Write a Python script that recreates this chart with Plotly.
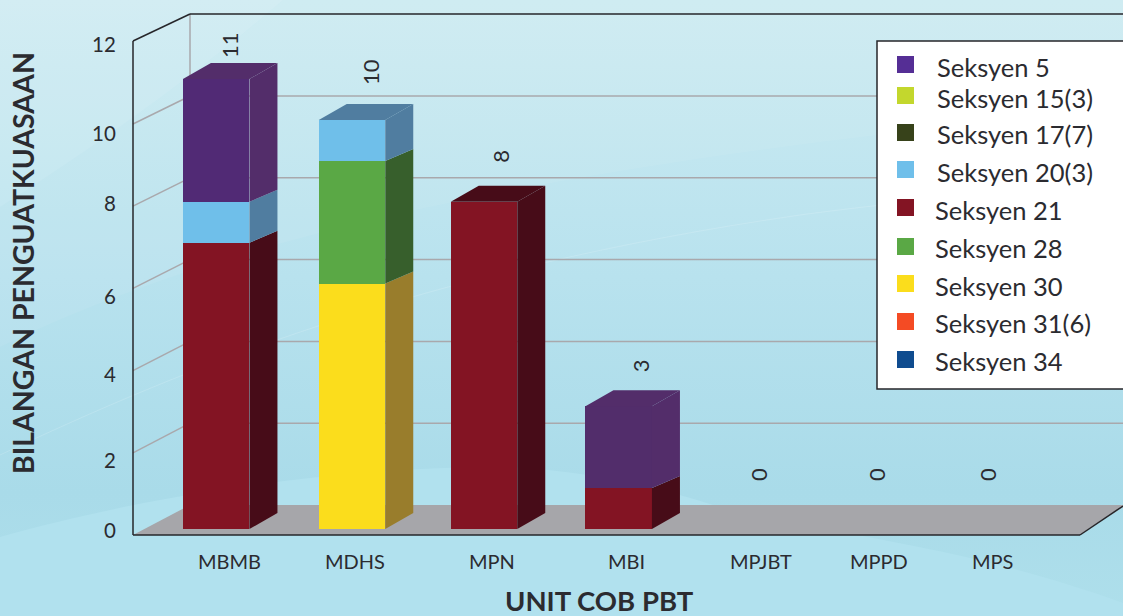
import base64
import plotly.graph_objects as go

# bilangan penguatkuasaan by unit, one list per seksyen
units = ["MBMB", "MDHS", "MPN", "MBI", "MPJBT", "MPPD", "MPS"]
seksyen_5 = [3, 0, 0, 2, 0, 0, 0]
seksyen_15_3 = [0, 0, 0, 0, 0, 0, 0]
seksyen_17_7 = [0, 0, 0, 0, 0, 0, 0]
seksyen_20_3 = [1, 1, 0, 0, 0, 0, 0]
seksyen_21 = [7, 0, 8, 1, 0, 0, 0]
seksyen_28 = [0, 3, 0, 0, 0, 0, 0]
seksyen_30 = [0, 6, 0, 0, 0, 0, 0]
seksyen_31_6 = [0, 0, 0, 0, 0, 0, 0]
seksyen_34 = [0, 0, 0, 0, 0, 0, 0]
totals = [11, 10, 8, 3, 0, 0, 0]
y_ticks = [0, 2, 4, 6, 8, 10, 12]

# name, values, swatch colour, front colour, side colour
purple_front = ["#512a75", "#512a75", "#512a75", "#522d6b", "#512a75", "#512a75", "#512a75"]
series = [
    ("Seksyen 5", seksyen_5, "#552e95", purple_front, "#532d6a"),
    ("Seksyen 15(3)", seksyen_15_3, "#c3d72d", "#c3d72d", "#7f8c1e"),
    ("Seksyen 17(7)", seksyen_17_7, "#37421a", "#37421a", "#232a10"),
    ("Seksyen 20(3)", seksyen_20_3, "#6fbfea", "#6fbfea", "#507da0"),
    ("Seksyen 21", seksyen_21, "#831423", "#831423", "#470c18"),
    ("Seksyen 28", seksyen_28, "#5aa845", "#5aa845", "#375f2c"),
    ("Seksyen 30", seksyen_30, "#fbdd1c", "#fbdd1c", "#997d2c"),
    ("Seksyen 31(6)", seksyen_31_6, "#f44b24", "#f44b24", "#9c3018"),
    ("Seksyen 34", seksyen_34, "#0f4c8f", "#0f4c8f", "#0a3360"),
]

W, H = 1123, 616
BASE = 529       # pixel row of value 0 on the bars
UNIT = 40.9      # pixels per unit
BAR_W = 66.5
DX, DY, DY_JOIN = 28, 16, 12
bar_x = [216.2, 352, 484, 618.7, 760, 878, 990]
FONT = "Lato"
INK = "#2b2b30"


def py(row):
    return (BASE - row) / UNIT


# background drawn as svg, swooshes included
bg_svg = f"""<svg xmlns="http://www.w3.org/2000/svg" width="{W}" height="{H}">
<defs><linearGradient id="g" x1="0" y1="0" x2="0" y2="1">
<stop offset="0" stop-color="#cdebf2"/><stop offset="0.45" stop-color="#b8e2ee"/>
<stop offset="0.8" stop-color="#a9dbe9"/><stop offset="1" stop-color="#aedfeb"/></linearGradient></defs>
<rect width="{W}" height="{H}" fill="url(#g)"/>
<path d="M0 0H283C190 80 90 150 0 207Z" fill="#fff" fill-opacity="0.12"/>
<path d="M0 347C200 250 500 165 1123 110V0H283C190 80 90 150 0 207Z" fill="#fff" fill-opacity="0.06"/>
<path d="M0 455C180 370 420 270 800 215C950 195 1050 190 1123 190" fill="none" stroke="#fff" stroke-opacity="0.15"/>
<path d="M0 537C130 500 330 465 513 467C590 472 650 485 713 505C800 532 950 540 1123 603V616H0Z" fill="#b1e1ee"/>
</svg>"""
bg_src = "data:image/svg+xml;base64," + base64.b64encode(bg_svg.encode()).decode()

fig = go.Figure()

# stacked front faces, bottom of the stack is the end of the legend
for name, values, swatch, front, side in reversed(series):
    fig.add_trace(go.Bar(x=bar_x, y=values, width=BAR_W, name=name,
                         marker=dict(color=front, line=dict(width=0)), showlegend=False))


def add_poly(xs, ys, color):
    fig.add_trace(go.Scatter(x=xs, y=ys, mode="lines", fill="toself", fillcolor=color,
                             line=dict(width=0), showlegend=False, hoverinfo="skip"))


# side and top faces worked out from the same stacks
for i, total in enumerate(totals):
    left = bar_x[i] - BAR_W / 2
    right = bar_x[i] + BAR_W / 2
    level = 0
    last_side = None
    for name, values, swatch, front, side in reversed(series):
        v = values[i]
        if v == 0:
            continue
        top = level + v
        d0 = (DY if level == 0 else DY_JOIN) / UNIT
        d1 = (DY if top == total else DY_JOIN) / UNIT
        add_poly([right, right + DX, right + DX, right, right],
                 [level, level + d0, top + d1, top, level], side)
        level = top
        last_side = side
    if last_side:
        d = DY / UNIT
        add_poly([left, left + DX, right + DX, right, left],
                 [total, total + d, total + d, total, total], last_side)

shapes = []
grid = "#a9a8ac"
dark = "#26262a"


def line(x0, r0, x1, r1, color, width, layer="below"):
    shapes.append(dict(type="line", xref="x", yref="y", x0=x0, y0=py(r0), x1=x1, y1=py(r1),
                       line=dict(color=color, width=width), layer=layer))


# floor
floor = f"M133,{py(535)} L190,{py(505)} L1123,{py(505)} L1123,{py(507)} L1080,{py(535)} Z"
shapes.append(dict(type="path", xref="x", yref="y", path=floor, fillcolor="#a6a6aa",
                   line=dict(width=0), layer="below"))

# wall gridlines
for v in y_ticks[1:-1]:
    line(133, 535 - 41.1 * v, 190, 505 - 40.9 * v, grid, 1.5)
    line(190, 505 - 40.9 * v, 1123, 505 - 40.9 * v, grid, 1.5)
line(190, 14, 190, 505, grid, 1.5)

# box frame
line(133, 41, 190, 14, dark, 1.5)
line(190, 14, 1123, 14, dark, 1.5)
line(133, 41, 133, 535, dark, 1.5)
line(133, 535, 1080, 535, dark, 1.5)
line(1080, 535, 1123, 506, dark, 1.5)

# legend box
shapes.append(dict(type="rect", xref="x", yref="y", x0=877, x1=1126, y0=py(41), y1=py(389),
                   fillcolor="white", line=dict(color=dark, width=1.5), layer="above"))

annotations = []


def text(x, y, s, size, color=INK, weight="normal", anchor="center", angle=0, yshift=0):
    annotations.append(dict(x=x, y=y, xref="x", yref="y", text=s, showarrow=False,
                            font=dict(family=FONT, size=size, color=color, weight=weight),
                            xanchor=anchor, yanchor="middle", textangle=angle, yshift=yshift,
                            borderpad=0))


# legend rows
swatch_rows = [64.5, 95.5, 132.5, 169.5, 207.5, 246.5, 283.5, 321.5, 359.5]
label_rows = [67, 98, 134, 172, 210, 248, 286, 323, 361]
label_x = [936, 936, 936, 936, 934, 934, 934, 934, 934]
for k, (name, values, swatch, front, side) in enumerate(series):
    shapes.append(dict(type="rect", xref="x", yref="y", x0=897, x1=914,
                       y0=py(swatch_rows[k] - 8.5), y1=py(swatch_rows[k] + 8.5),
                       fillcolor=swatch, line=dict(width=0), layer="above"))
    text(label_x[k], py(label_rows[k]), name, 25.5, anchor="left")

# tick labels sit off the gridlines in the original
y_label_rows = [530, 460, 374, 296, 203, 133, 44]
for v, row in zip(y_ticks, y_label_rows):
    text(117, py(row), str(v), 20.5, anchor="right")

x_label_x = [229, 355, 492, 626, 761, 879, 992]
for name, x in zip(units, x_label_x):
    text(x, py(561), name, 20)

# totals above each column
total_x = [229, 370, 501, 640, 758, 876, 987]
total_shift = [34, 48, 45, 40, 54, 54, 54]
for x, t, s in zip(total_x, totals, total_shift):
    text(x, t, str(t), 22, angle=-90, yshift=s)

text(23, py(263), "BILANGAN PENGUATKUASAAN", 28.5, weight="bold", angle=-90)
text(599, py(600), "UNIT COB PBT", 27.5, weight="bold")

fig.update_layout(
    width=W, height=H, autosize=False,
    margin=dict(l=0, r=0, t=0, b=0, pad=0),
    barmode="stack", bargap=0,
    paper_bgcolor="#b8e2ee", plot_bgcolor="rgba(0,0,0,0)",
    xaxis=dict(range=[0, W], visible=False, fixedrange=True),
    yaxis=dict(range=[py(H), py(0)], visible=False, fixedrange=True),
    images=[dict(source=bg_src, xref="paper", yref="paper", x=0, y=1, sizex=1, sizey=1,
                 sizing="stretch", xanchor="left", yanchor="top", layer="below")],
    shapes=shapes, annotations=annotations, showlegend=False,
)

fig.write_html("out.html", config={"displayModeBar": False},
               post_script="document.body.style.margin='0';document.body.style.overflow='hidden';")
